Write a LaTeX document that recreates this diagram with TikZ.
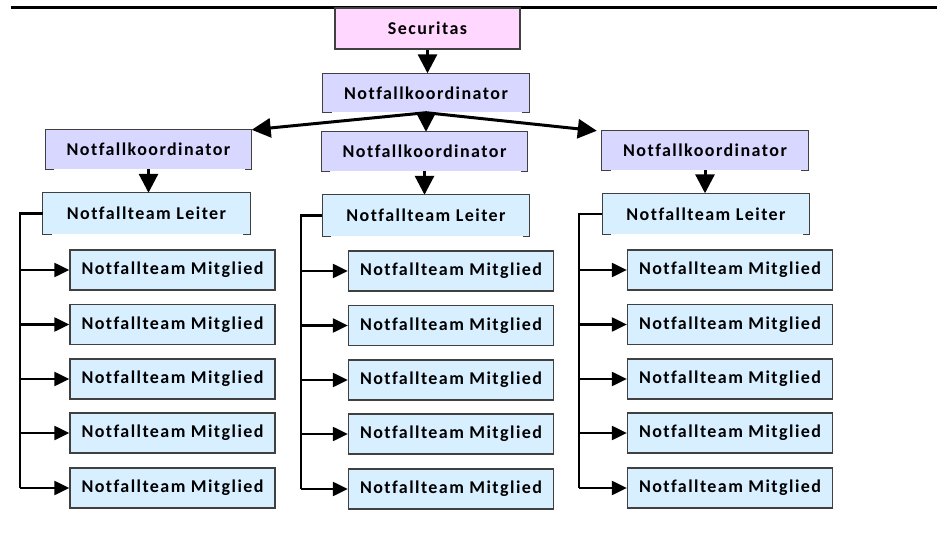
\documentclass[tikz,border=0pt]{standalone}
\usepackage{fontspec}
\setmainfont{Carlito}[LetterSpace=8,Ligatures=NoCommon]
\usetikzlibrary{arrows.meta,calc}
\definecolor{pinkfill}{HTML}{FFD7FF}
\definecolor{lavfill}{HTML}{D7D7FF}
\definecolor{bluefill}{HTML}{D7EFFF}
\definecolor{bordercol}{HTML}{404040}
\newcommand\openborder[1]{\draw[bd] ([xshift=9pt]#1.south west) -- (#1.south west) -- (#1.north west) -- (#1.north east) -- (#1.south east) -- ([xshift=-7pt]#1.south east);}
\begin{document}
\begin{tikzpicture}[x=1pt,y=-1pt,
  every node/.style={font=\fontsize{18}{21}\selectfont\bfseries, inner sep=0pt, text=black},
  bd/.style={draw=bordercol, line width=1.3pt},
  secbox/.style={bd, fill=pinkfill, minimum width=185pt, minimum height=41pt},
  kobox/.style={fill=lavfill, minimum width=206pt, minimum height=39pt},
  leibox/.style={fill=bluefill, minimum width=207pt, minimum height=41pt},
  membox/.style={bd, fill=bluefill, minimum width=205pt, minimum height=40pt},
  arr/.style={line width=3pt, -{Triangle[length=19pt 0,width=19pt 0]}},
  brarr/.style={line width=2.2pt, -{Triangle[length=15pt 0,width=14pt 0]}},
  ln/.style={line width=2.2pt}
]
\useasboundingbox (0,0) rectangle (937,545);
\draw[line width=2.2pt] (11,7.5) coordinate (tl) -- (937,7.5) coordinate (tr);
\node[secbox] (sec) at (427.5,28.5) {Securitas};
\node[kobox] (tk) at (426,93) {Notfallkoordinator};
\openborder{tk}
\node[kobox] (lk) at (148.5,149.5) {Notfallkoordinator};
\openborder{lk}
\node[kobox] (mk) at (424.5,151.5) {Notfallkoordinator};
\openborder{mk}
\node[kobox] (rk) at (705,150.5) {Notfallkoordinator};
\openborder{rk}
\node[leibox] (ll) at (146.5,213.5) {Notfallteam Leiter};
\openborder{ll}
\node[leibox] (ml) at (426,215.5) {Notfallteam Leiter};
\openborder{ml}
\node[leibox] (rl) at (706,214) {Notfallteam Leiter};
\openborder{rl}
\draw[arr] (sec.south) -- (sec.south |- tk.north);
\draw[arr] (tk.south) -- (lk.north east);
\draw[arr] (tk.south) -- (tk.south |- mk.north);
\draw[arr] (tk.south) -- ([xshift=-5pt]rk.north west);
\draw[arr] (lk.south) -- (lk.south |- ll.north);
\draw[arr] (mk.south) -- (mk.south |- ml.north);
\draw[arr] (rk.south) -- (rk.south |- rl.north);
\foreach \c/\x/\vx/\dy in {l/172.5/20/0, m/451/301/1, r/730/579/0}{
  \foreach \i/\y in {1/270,2/324.5,3/379,4/433,5/488}{
    \node[membox] (\c m\i) at (\x,\y+\dy) {Notfallteam Mitglied};
  }
  \coordinate (\c v) at (\vx,0);
  \draw[ln] (\c l.west) -| (\c v |- \c m5.west);
  \foreach \i in {1,...,4}{
    \draw[brarr] (\c v |- \c m\i.west) -- (\c m\i.west);
  }
  \draw[brarr] (\c v |- \c m5.west) -- (\c m5.west);
}
\end{tikzpicture}
\end{document}
